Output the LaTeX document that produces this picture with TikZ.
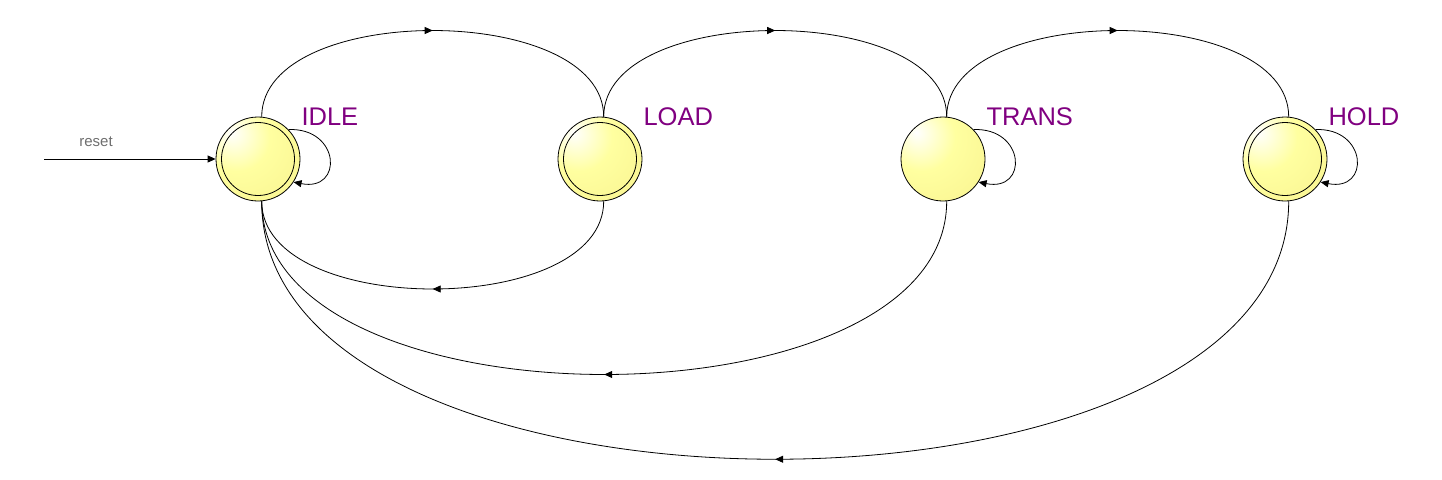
\documentclass[tikz,border=0pt]{standalone}
\usepackage{fontspec}
\setmainfont{Liberation Sans}
\usetikzlibrary{arrows.meta,decorations.markings}
\definecolor{stpurple}{RGB}{128,0,128}
\definecolor{stgray}{RGB}{110,110,110}
\definecolor{stedge}{RGB}{247,240,140}
\definecolor{stmid}{RGB}{255,255,160}
\pgfdeclareradialshading{stateball}{\pgfpoint{-16bp}{16bp}}{%
  color(0bp)=(white);
  color(20bp)=(stmid);
  color(55bp)=(stedge);
  color(100bp)=(stedge)}
\tikzset{
  tip/.style={-{Triangle[length=8pt,width=7pt]}},
  midtip/.style={postaction={decorate},decoration={markings,
    mark=at position 0.5 with {\arrow{Triangle[length=8pt,width=7pt]}}}},
  statenode/.style={circle,draw,line width=0.8pt,minimum size=84pt,inner sep=0pt,
    shading=stateball},
  statelabel/.style={anchor=base west,text=stpurple,font=\fontsize{25.5}{25.5}\selectfont},
  edge/.style={line width=0.8pt}
}
\begin{document}
\begin{tikzpicture}[x=1pt,y=-1pt]
\useasboundingbox (0,0) rectangle (1442,479);
\node[statenode] (idle) at (258,159) {};
\node[statenode] (load) at (600,159) {};
\node[statenode] (trans) at (943,159) {};
\node[statenode] (hold) at (1285,159) {};
\foreach \s in {idle,load,hold}{
  \draw[line width=0.8pt] (\s.center) circle[radius=36.5pt];
}
\node[statelabel] (lidle) at ([xshift=40pt,yshift=34pt]idle.center) {IDLE};
\node[statelabel] (lload) at ([xshift=40pt,yshift=34pt]load.center) {LOAD};
\node[statelabel] (ltrans) at ([xshift=40pt,yshift=34pt]trans.center) {TRANS};
\node[statelabel] (lhold) at ([xshift=40pt,yshift=34pt]hold.center) {HOLD};
% reset
\coordinate (rst) at (44,159);
\draw[edge,tip] (rst) -- (idle.west);
\node[text=stgray,font=\fontsize{15}{15}\selectfont] (rlab) at (96,142) {reset};
% top arcs
\draw[edge,midtip] (idle.85) .. controls +(0,-115) and +(0,-115) .. (load.85);
\draw[edge,midtip] (load.85) .. controls +(0,-115) and +(0,-115) .. (trans.85);
\draw[edge,midtip] (trans.85) .. controls +(0,-115) and +(0,-115) .. (hold.85);
% bottom arcs
\draw[edge,midtip] (load.-85) .. controls +(0,117) and +(0,117) .. (idle.-85);
\draw[edge,midtip] (trans.-85) .. controls +(0,231) and +(0,231) .. (idle.-85);
\draw[edge,midtip] (hold.-85) .. controls +(0,344) and +(0,344) .. (idle.-85);
% self loops
\foreach \s in {idle,trans,hold}{
  \draw[edge,tip] (\s.44) .. controls +(52,-2) and +(50,10) .. (\s.-33);
}
\end{tikzpicture}
\end{document}
